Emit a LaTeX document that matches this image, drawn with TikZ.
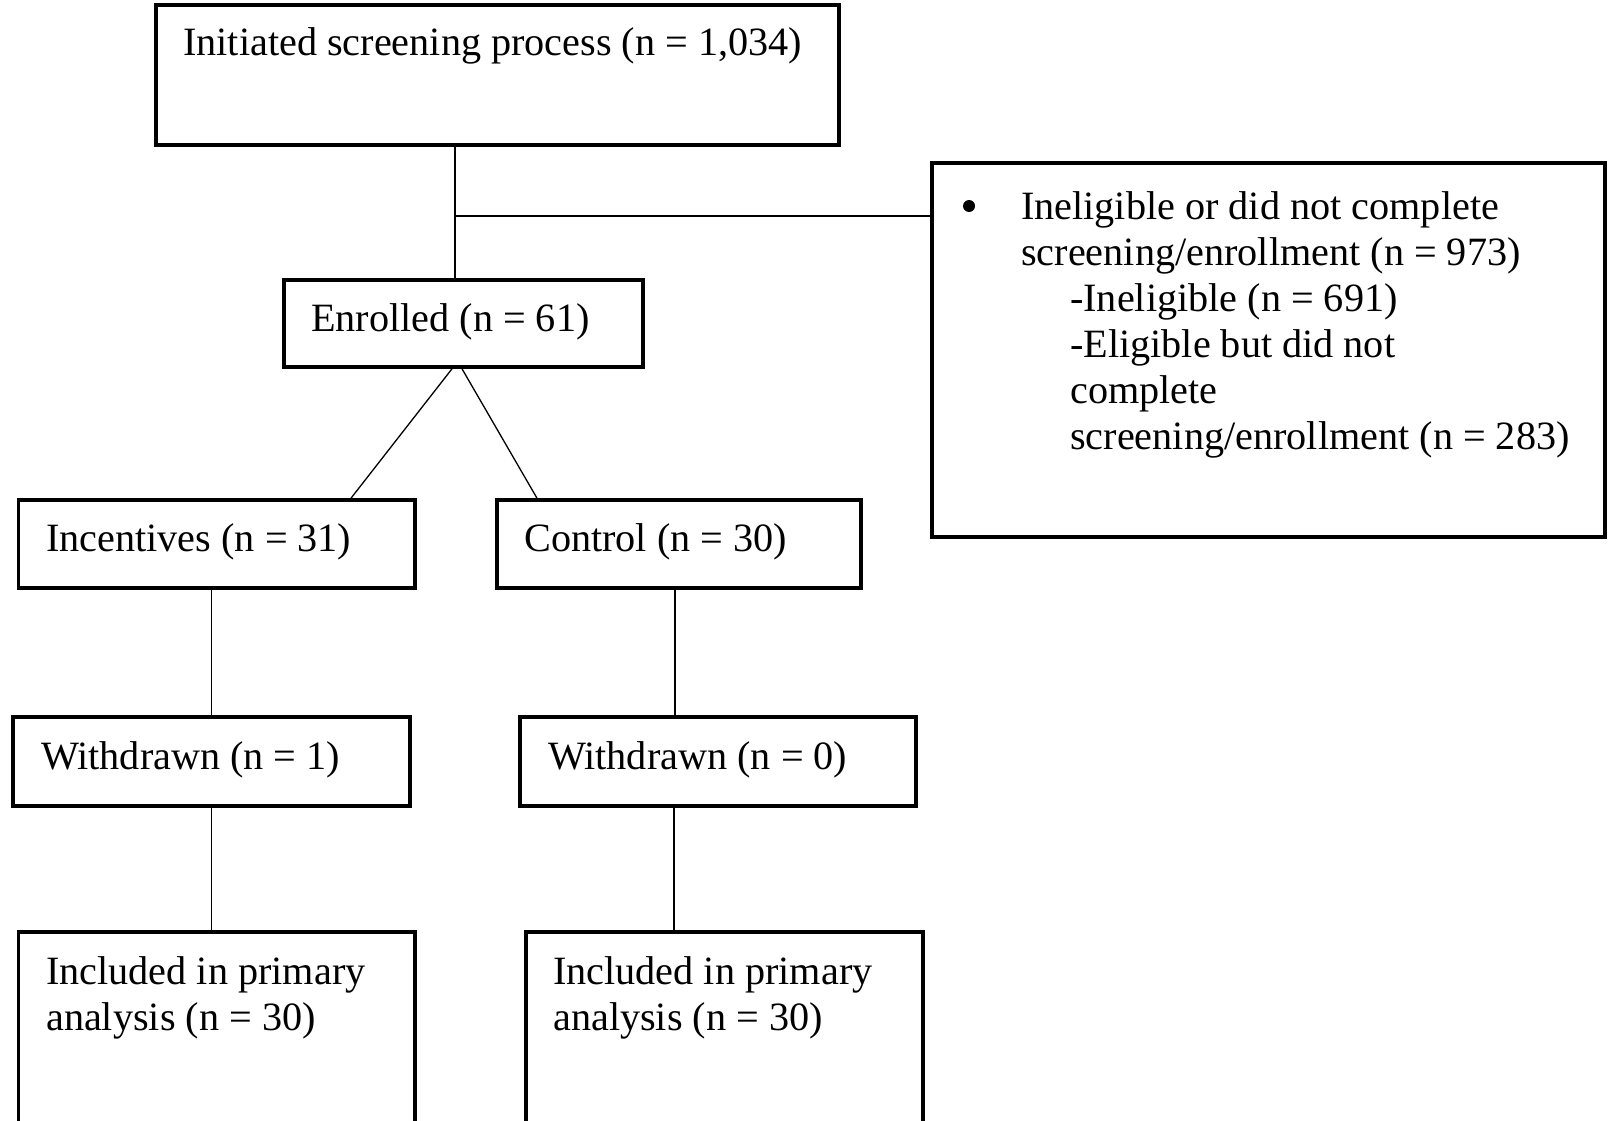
\documentclass[tikz,border=0pt]{standalone}
\usepackage{fontspec}
\setmainfont{Liberation Serif}
\begin{document}
\begin{tikzpicture}[x=1pt,y=-1pt,
  box/.style={draw, line width=3.6pt, rectangle, inner sep=0pt},
  conn/.style={line width=1.3pt},
  txt/.style={anchor=base west, inner sep=0pt, align=left, font=\fontsize{40.2}{46}\selectfont}]
\useasboundingbox (0,0) rectangle (1612,1121);
% boxes
\node[box, minimum width=683pt, minimum height=140pt] (top) at (497.5,75) {};
\node[box, minimum width=673pt, minimum height=374pt] (inel) at (1268.5,350) {};
\node[box, minimum width=359pt, minimum height=87pt] (enr) at (463.5,323.5) {};
\node[box, minimum width=396.5pt, minimum height=88pt] (inc) at (216.75,544) {};
\node[box, minimum width=364pt, minimum height=88pt] (ctl) at (679,544) {};
\node[box, minimum width=397pt, minimum height=89pt] (wdA) at (211.5,761.5) {};
\node[box, minimum width=396pt, minimum height=89pt] (wdB) at (718,761.5) {};
\node[box, minimum width=396.5pt, minimum height=208pt] (inA) at (216.75,1036) {};
\node[box, minimum width=397pt, minimum height=208pt] (inB) at (724.5,1036) {};
% texts (anchor is the baseline of the last line)
\node[txt] (tTop) at (183,56) {Initiated screening process (n = 1,034)};
\fill (969,206) circle (6pt);
\node[txt] (tInA) at (1021,265) {Ineligible or did not complete\\screening/enrollment (n = 973)};
\node[txt] (tInB) at (1070,449) {-Ineligible (n = 691)\\-Eligible but did not\\complete\\screening/enrollment (n = 283)};
\node[txt] (tEnr) at (311,331) {Enrolled (n = 61)};
\node[txt] (tInc) at (46,551) {Incentives (n = 31)};
\node[txt] (tCtl) at (524,551) {Control (n = 30)};
\node[txt] (tWdA) at (41,769) {Withdrawn (n = 1)};
\node[txt] (tWdB) at (548,769) {Withdrawn (n = 0)};
\node[txt] (tIncA) at (46,1030) {Included in primary\\analysis (n = 30)};
\node[txt] (tIncB) at (553,1030) {Included in primary\\analysis (n = 30)};
% connectors
\coordinate (j) at (455,216);
\draw[conn] (j |- top.south) -- (j |- enr.north);
\draw[conn] (j) -- (j -| inel.west);
\draw[conn] ([xshift=-11.5pt]enr.south) -- ([xshift=134.25pt]inc.north);
\draw[conn] ([xshift=-1.5pt]enr.south) -- ([xshift=-142pt]ctl.north);
\draw[conn] (wdA.north |- inc.south) -- (wdA.north);
\draw[conn] (wdA.south) -- (wdA.south |- inA.north);
\draw[conn] ([xshift=-4pt]ctl.south) -- ([xshift=-4pt]ctl.south |- wdB.north);
\draw[conn] ([xshift=-44pt]wdB.south) -- ([xshift=-44pt]wdB.south |- inB.north);
\end{tikzpicture}
\end{document}
